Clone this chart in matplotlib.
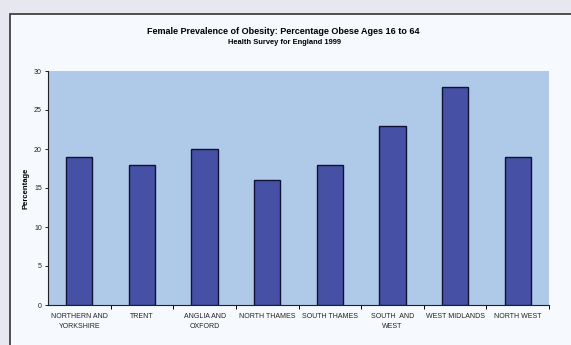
import matplotlib.pyplot as plt
from matplotlib.patches import Rectangle

regions = ['NORTHERN AND\nYORKSHIRE', 'TRENT', 'ANGLIA AND\nOXFORD', 'NORTH THAMES',
           'SOUTH THAMES', 'SOUTH  AND\nWEST', 'WEST MIDLANDS', 'NORTH WEST']
obese_pct = [19, 18, 20, 16, 18, 23, 28, 19]
y_ticks = [0, 5, 10, 15, 20, 25, 30]

plt.rcParams['font.family'] = ['Liberation Sans', 'DejaVu Sans']

W, H = 571, 345
fig = plt.figure(figsize=(W / 100, H / 100), dpi=100)
fig.patch.set_facecolor('#e7e7f0')

# chart frame, runs off the right and bottom edges
frame = Rectangle((10 / W, -0.05), 1.0, 1 - 14 / H + 0.05, transform=fig.transFigure,
                  facecolor='#f6f9fd', edgecolor='#333333', linewidth=1.2, zorder=-1)
fig.patches.append(frame)

left, right, top, bottom = 48, 549, 71, 305
ax = fig.add_axes([left / W, 1 - bottom / H, (right - left) / W, (bottom - top) / H])
ax.set_zorder(1)
ax.set_facecolor('#afc9e8')

x = range(len(regions))
ax.bar(x, obese_pct, width=0.42, color='#4651a5', edgecolor='#111133', linewidth=1.0,
       zorder=3)

ax.set_xlim(-0.5, len(regions) - 0.5)
ax.set_ylim(0, 30)
ax.set_yticks(y_ticks)
ax.tick_params(axis='y', labelsize=5, length=2.5, width=0.7, pad=2, colors='#222222')

# category labels centred, ticks between categories
ax.set_xticks(list(x))
ax.set_xticklabels(regions, fontsize=5, linespacing=1.6)
ax.tick_params(axis='x', which='major', length=0, pad=6, colors='#222222')
ax.set_xticks([i + 0.5 for i in x], minor=True)
ax.tick_params(axis='x', which='minor', length=3, width=0.7)

for s in ['top', 'right']:
    ax.spines[s].set_visible(False)
for s in ['left', 'bottom']:
    ax.spines[s].set_color('#222222')
    ax.spines[s].set_linewidth(0.8)

ax.set_ylabel('Percentage', fontsize=5.5, fontweight='bold', labelpad=3)

fig.text(283 / W, 1 - 31 / H,
         'Female Prevalence of Obesity: Percentage Obese Ages 16 to 64',
         ha='center', va='center', fontsize=6.5, fontweight='bold')
fig.text(284 / W, 1 - 43 / H, 'Health Survey for England 1999',
         ha='center', va='center', fontsize=5.4, fontweight='bold')

fig.savefig('out.png', dpi=100, facecolor=fig.get_facecolor())
